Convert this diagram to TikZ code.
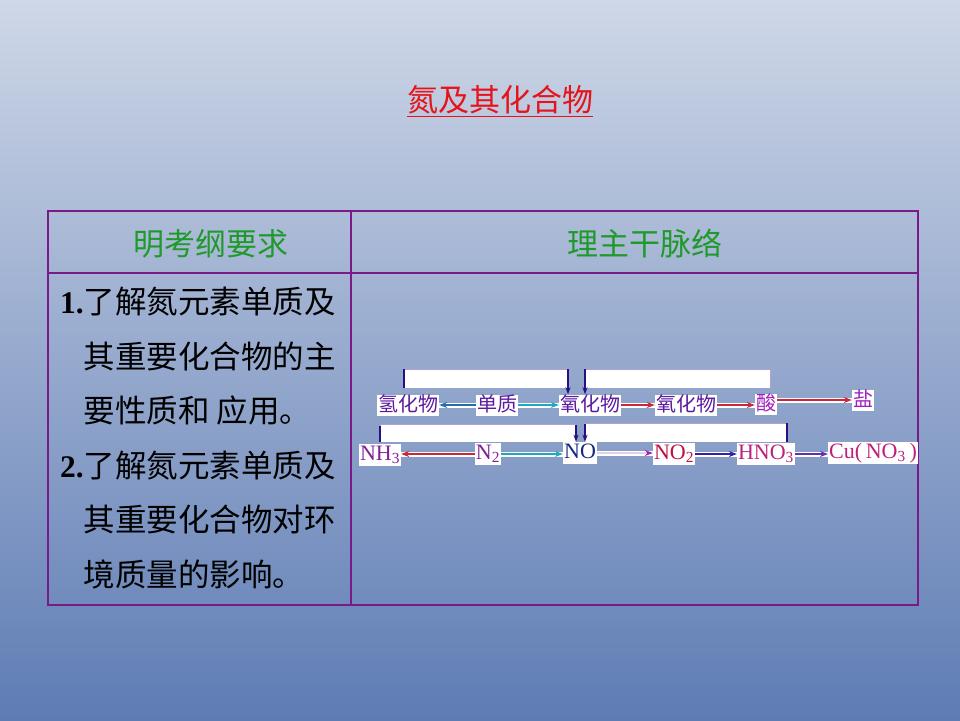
\documentclass[tikz,border=0pt]{standalone}
\usepackage{fontspec}
\setmainfont{Liberation Serif}
\newfontfamily\cjk{Noto Sans CJK SC}
\newfontfamily\tnr{Liberation Serif}
\usepackage{tikz}
\usetikzlibrary{arrows.meta}

\definecolor{bgtop}{RGB}{206,215,231}
\definecolor{bgbot}{RGB}{94,124,180}
\definecolor{tabpurple}{RGB}{122,26,136}
\definecolor{headgreen}{RGB}{31,154,42}
\definecolor{titlered}{RGB}{230,20,26}
\definecolor{inkpurple}{RGB}{92,26,160}
\definecolor{acidpurple}{RGB}{160,32,190}
\definecolor{nhpurple}{RGB}{130,32,150}
\definecolor{nonavy}{RGB}{20,40,128}
\definecolor{nored}{RGB}{192,16,64}
\definecolor{hnomag}{RGB}{190,32,122}
\definecolor{navyline}{RGB}{40,16,130}
\definecolor{lavender}{RGB}{176,160,216}
\definecolor{steelb}{RGB}{32,112,176}
\definecolor{cyanl}{RGB}{32,168,192}
\definecolor{redl}{RGB}{200,40,56}
\definecolor{bluel}{RGB}{48,32,176}
\definecolor{violetl}{RGB}{96,48,176}
\definecolor{palel}{RGB}{220,210,238}

\begin{document}
\begin{tikzpicture}[
        x=1pt, y=-1pt,
        grid/.style={draw=tabpurple, line width=2.5pt},
        head/.style={font=\cjk\fontsize{31}{31}\selectfont, text=headgreen},
        req/.style={font=\cjk\fontsize{31.5}{54.5}\selectfont, align=left, inner sep=0pt},
        lbl/.style={fill=white, inner sep=1pt, text height=16pt, text depth=3pt, font=\cjk\fontsize{20}{20}\selectfont, text=inkpurple},
        chem/.style={fill=white, inner sep=1pt, text height=15pt, text depth=5pt, font=\fontsize{22}{22}\selectfont},
        arr/.style={-{Stealth[length=8pt, width=6pt]}, line width=1.2pt, preaction={draw=white, line width=5pt, -}},
        brk/.style={draw=lavender, line width=0.8pt},
        brkside/.style={draw=navyline, line width=1.5pt},
        brkarr/.style={draw=navyline, line width=1.5pt, -{Stealth[length=7pt, width=5pt]}}
    ]
        % Background and title
        \shade[top color=bgtop, bottom color=bgbot] (0,0) rectangle (960,720);
        \node[font=\cjk\fontsize{31}{31}\selectfont, text=titlered] (title) at (500,101) {\underline{氮及其化合物}};

        % Table
        \draw[grid] (48,211) rectangle (918,605);
        \draw[grid] (351,211) -- (351,605);
        \draw[grid] (48,273) -- (918,273);
        \node[head] (colreq) at (211,244) {明考纲要求};
        \node[head] (colmap) at (645,244) {理主干脉络};
        \node[req, anchor=west] (req) at (60,438) {{\tnr\bfseries 1.}了解氮元素单质及\\
            \phantom{\tnr\bfseries 1.}其重要化合物的主\\
            \phantom{\tnr\bfseries 1.}要性质和 应用。\\
            {\tnr\bfseries 2.}了解氮元素单质及\\
            \phantom{\tnr\bfseries 2.}其重要化合物对环\\
            \phantom{\tnr\bfseries 2.}境质量的影响。};

        % Substance classes
        \node[lbl] (qing) at (408,405) {氢化物};
        \node[lbl] (dan) at (497,405) {单质};
        \node[lbl] (yang1) at (590,405) {氧化物};
        \node[lbl] (yang2) at (686,405) {氧化物};
        \node[lbl, text=acidpurple] (suan) at (766,404) {酸};
        \node[lbl, text=acidpurple] (yan) at (863,400) {盐};

        % Nitrogen compounds
        \node[chem, text=nhpurple] (nh) at (380,455) {NH\textsubscript{3}};
        \node[chem, text=nhpurple] (nn) at (488,454) {N\textsubscript{2}};
        \node[chem, text=nonavy] (no) at (580,453) {NO};
        \node[chem, text=nored] (noo) at (674,454) {NO\textsubscript{2}};
        \node[chem, text=hnomag] (hno) at (766,454) {HNO\textsubscript{3}};
        \node[chem, text=hnomag] (cu) at (873,453) {Cu(\,NO\textsubscript{3}\,)};

        % Brackets, upper row
        \fill[white] ([shift={(-4,-6)}]qing.north) rectangle ([shift={(-22,-25)}]yang1.north);
        \draw[brk] ([shift={(-4,-6)}]qing.north) |- ([shift={(-22,-25)}]yang1.north);
        \draw[brkside] ([shift={(-4,-6)}]qing.north) -- ++(0,-19);
        \draw[brkarr] ([shift={(-22,-25)}]yang1.north) -- ([xshift=-22]yang1.north);
        \fill[white] ([shift={(4,-5)}]suan.north) rectangle ([shift={(-5,-25)}]yang1.north);
        \draw[brk] ([shift={(4,-5)}]suan.north) |- ([shift={(-5,-25)}]yang1.north);
        \draw[brkarr] ([shift={(-5,-25)}]yang1.north) -- ([xshift=-5]yang1.north);

        % Brackets, lower row
        \fill[white] ([shift={(0,-2)}]nh.north) rectangle ([shift={(-4,-17)}]no.north);
        \draw[brk] ([shift={(0,-2)}]nh.north) |- ([shift={(-4,-17)}]no.north);
        \draw[brkside] ([shift={(0,-2)}]nh.north) -- ++(0,-16);
        \draw[brkarr] ([shift={(-4,-17)}]no.north) -- ([xshift=-4]no.north);
        \fill[white] ([shift={(21,-1)}]hno.north) rectangle ([shift={(5,-18)}]no.north);
        \draw[brk] ([shift={(21,-1)}]hno.north) |- ([shift={(5,-18)}]no.north);
        \draw[brkside] ([shift={(21,-1)}]hno.north) -- ++(0,-19);
        \draw[brkarr] ([shift={(5,-18)}]no.north) -- ([xshift=5]no.north);

        % Arrows, upper row
        \draw[arr, draw=steelb] (dan) -- (qing);
        \draw[arr, draw=cyanl] (dan) -- (yang1);
        \draw[arr, draw=redl] (yang1) -- (yang2);
        \draw[arr, draw=redl] (yang2) -- (suan.west |- yang2);
        \draw[arr, draw=redl] (suan.east |- yan) -- (yan);

        % Arrows, lower row
        \draw[arr, draw=redl] (nn) -- (nh.east |- nn);
        \draw[arr, draw=cyanl] (nn) -- (no.west |- nn);
        \draw[arr, draw=palel, -{Stealth[length=8pt, width=6pt, color=acidpurple]}] (no) -- (noo.west |- no);
        \draw[arr, draw=bluel] (noo) -- (hno);
        \draw[arr, draw=violetl] (hno) -- (cu.west |- hno);
    \end{tikzpicture}
\end{document}
